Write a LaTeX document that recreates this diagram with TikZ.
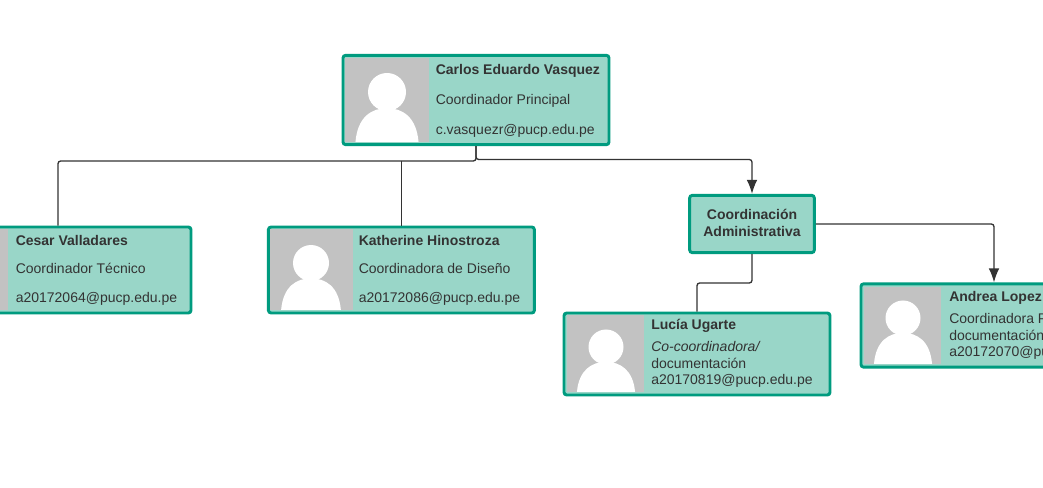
\documentclass[tikz,border=0pt]{standalone}
\usepackage{fontspec}
\setmainfont{Liberation Sans}
\usetikzlibrary{arrows.meta}
\definecolor{cardfill}{HTML}{99D6C8}
\definecolor{cardline}{HTML}{009B7F}
\definecolor{photo}{HTML}{C2C2C2}
\definecolor{ink}{HTML}{333333}
\newcommand{\personfig}[7]{% x1 y1 x2 y2 cx headcy headr/bodyhalf
  \fill[photo] (#1,#2) rectangle (#3,#4);
  \fill[white] (#5,#6) circle[radius=#7];
  \fill[white] (#5-#7*1.66,#4) .. controls (#5-#7*1.55,#6+#7*1.3) and (#5-#7*0.8,#6+#7*0.85) .. (#5,#6+#7*0.85)
     .. controls (#5+#7*0.8,#6+#7*0.85) and (#5+#7*1.55,#6+#7*1.3) .. (#5+#7*1.66,#4) -- cycle;
}
\tikzset{
  cardbox/.style={draw=cardline,fill=cardfill,line width=2.2pt,rounded corners=2pt,inner sep=0pt},
  txtline/.style={anchor=base west,inner sep=0pt,text=ink,yshift=-0.5pt,font=\fontsize{10.5pt}{12pt}\selectfont},
  nameline/.style={txtline,font=\fontsize{10.5pt}{12pt}\selectfont\bfseries},
  link/.style={draw=ink,line width=1pt,rounded corners=2pt},
  arrowed/.style={-{Latex[length=10.5pt,width=8pt]}}
}
\begin{document}
\begin{tikzpicture}[x=0.75pt,y=-0.75pt]
\useasboundingbox (0,0) rectangle (1043,488);
\clip (0,0) rectangle (1043,488);
\fill[white] (0,0) rectangle (1043,488);
% boxes
\node[cardbox,minimum width=199.5pt,minimum height=67pt] (boss) at (476,100) {};
\node[cardbox,minimum width=199.5pt,minimum height=64.5pt] (cesar) at (58,270) {};
\node[cardbox,minimum width=199.5pt,minimum height=64.5pt] (kath) at (401.4,270) {};
\node[cardbox,minimum width=93.5pt,minimum height=43pt] (coord) at (752,224) {};
\node[cardbox,minimum width=199.5pt,minimum height=61.5pt] (lucia) at (697,354) {};
\node[cardbox,minimum width=199.5pt,minimum height=62.5pt] (andrea) at (994,325.5) {};
\coordinate (leftbus) at (401.4,161);
\coordinate (rightbus) at (752,159.5);
\coordinate (lowbus) at (697,283);
% photos
\personfig{345}{58}{429}{142}{387}{92}{19}
\personfig{-73}{229}{8}{310}{-32}{263}{18}
\personfig{270}{229}{353}{310}{311}{263}{18}
\personfig{567}{315}{644}{392}{606}{347}{17.5}
\personfig{864}{287}{941}{364}{903}{318}{17.5}
% text
\node[nameline] (t1) at (435.5,74) {Carlos Eduardo Vasquez};
\node[txtline] (t2) at (435.5,104) {Coordinador Principal};
\node[txtline] (t3) at (435.5,134) {c.vasquezr@pucp.edu.pe};
\node[nameline] (c1) at (15.5,244.5) {Cesar Valladares};
\node[txtline] (c2) at (15.5,273) {Coordinador Técnico};
\node[txtline] (c3) at (15.5,302) {a20172064@pucp.edu.pe};
\node[nameline] (k1) at (358.5,244.5) {Katherine Hinostroza};
\node[txtline] (k2) at (358.5,273) {Coordinadora de Diseño};
\node[txtline] (k3) at (358.5,302) {a20172086@pucp.edu.pe};
\node[nameline,anchor=base] (a1) at (752,218.5) {Coordinación};
\node[nameline,anchor=base] (a2) at (752,236) {Administrativa};
\node[nameline] (l1) at (651,329) {Lucía Ugarte};
\node[txtline] (l2) at (651,351) {\itshape Co-coordinadora/};
\node[txtline] (l3) at (651,368) {documentación};
\node[txtline] (l4) at (651,384) {a20170819@pucp.edu.pe};
\node[nameline] (n1) at (949,301) {Andrea Lopez};
\node[txtline] (n2) at (949,323) {Coordinadora P};
\node[txtline] (n3) at (949,339.5) {documentación};
\node[txtline] (n4) at (949,356) {a20172070@pu};
% connectors
\draw[link] (boss.south) |- (leftbus) -| (cesar.north);
\draw[link] (leftbus) -- (kath.north);
\draw[link,arrowed] (boss.south) |- (rightbus) -- (coord.north);
\draw[link,arrowed] (coord.east) -| (andrea.north);
\draw[link] (coord.south) |- (lowbus) -- (lucia.north);
\end{tikzpicture}
\end{document}
